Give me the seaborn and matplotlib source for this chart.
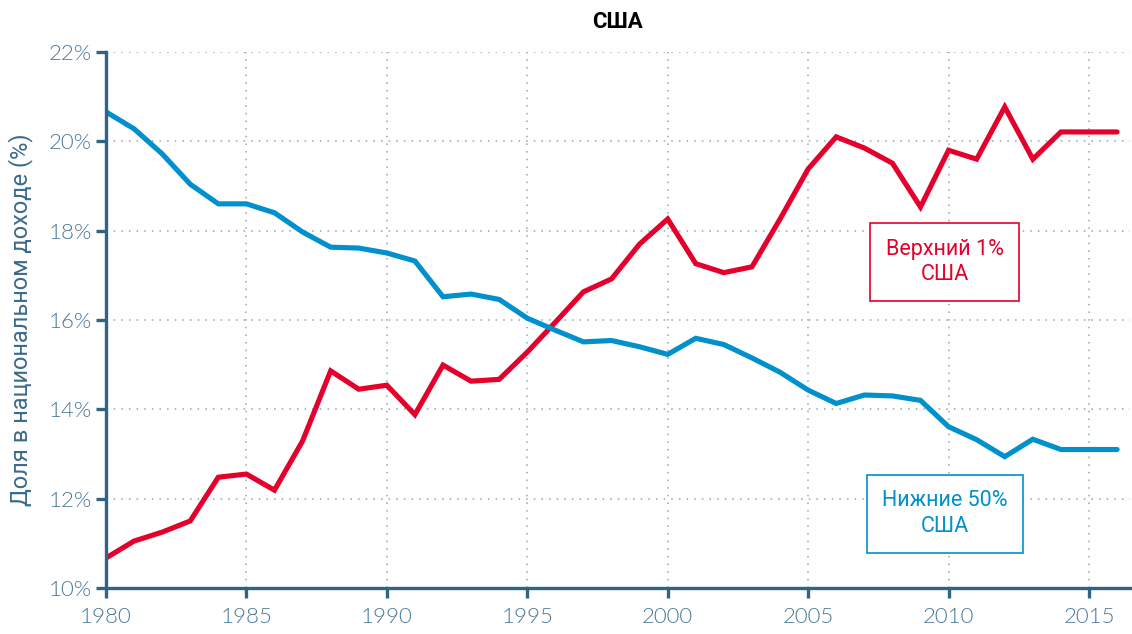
import matplotlib
matplotlib.use("Agg")
import matplotlib.pyplot as plt
import matplotlib.ticker as mticker
import pandas as pd
import seaborn as sns

years = list(range(1980, 2017))
top1 = [10.67, 11.05, 11.25, 11.50, 12.48, 12.55, 12.19, 13.29, 14.86, 14.45,
        14.54, 13.88, 14.99, 14.63, 14.67, 15.28, 15.95, 16.63, 16.92, 17.70,
        18.26, 17.26, 17.06, 17.19, 18.26, 19.38, 20.10, 19.85, 19.51, 18.53,
        19.80, 19.60, 20.77, 19.60, 20.21, 20.21, 20.21]
bottom50 = [20.66, 20.28, 19.72, 19.04, 18.60, 18.60, 18.40, 17.97, 17.63, 17.61,
            17.50, 17.32, 16.52, 16.58, 16.46, 16.04, 15.77, 15.51, 15.54, 15.40,
            15.23, 15.59, 15.45, 15.15, 14.83, 14.43, 14.13, 14.32, 14.30, 14.20,
            13.61, 13.32, 12.94, 13.33, 13.10, 13.10, 13.10]
series_names = ["Верхний 1%\nСША", "Нижние 50%\nСША"]
colors = ["#e4002b", "#0090cc"]

df = pd.concat([
    pd.DataFrame({"year": years, "share": top1, "group": series_names[0]}),
    pd.DataFrame({"year": years, "share": bottom50, "group": series_names[1]}),
])

sns.set_style("white")
plt.rcParams["font.family"] = ["Roboto", "DejaVu Sans"]

axis_col = "#2f6485"
tick_col = "#4a7898"

fig = plt.figure(figsize=(11.32, 6.34), dpi=100)
ax = fig.add_axes([0.0936, 0.0726, 0.9044, 0.8454])

sns.lineplot(data=df, x="year", y="share", hue="group", palette=colors,
             linewidth=3.7, legend=False, ax=ax)
for line in ax.lines:
    line.set_solid_capstyle("round")
    line.set_solid_joinstyle("miter")

ax.set_xlim(1980, 2016.45)
ax.set_ylim(10, 22)
ax.set_xticks(range(1980, 2016, 5))
ax.set_yticks(range(10, 23, 2))
ax.yaxis.set_major_formatter(mticker.FuncFormatter(lambda v, p: f"{v:.0f}%"))

ax.grid(True, linestyle=(0, (1, 4)), color="#8fa6b8", linewidth=1.1)
for s in ["top", "right"]:
    ax.spines[s].set_visible(False)
for s in ["left", "bottom"]:
    ax.spines[s].set_color(axis_col)
    ax.spines[s].set_linewidth(2.4)

ax.tick_params(axis="both", colors=axis_col, width=2.4, length=7, direction="out",
               labelcolor=tick_col, labelsize=16, bottom=True, left=True)
for lab in ax.get_xticklabels() + ax.get_yticklabels():
    lab.set_family(["Lato", "DejaVu Sans"])
    lab.set_fontweight(300)
ax.tick_params(axis="x", pad=7)
ax.tick_params(axis="y", pad=3)

ax.set_xlabel("")
ax.set_ylabel("Доля в национальном доходе (%)", color="#3b6b8c", fontsize=17, labelpad=11)
ax.set_title("США", fontsize=16, fontweight="bold", color="black", pad=17)

label_pos = [(2009.87, 17.3), (2009.87, 11.66)]
for name, col, (x, y) in zip(series_names, colors, label_pos):
    ax.text(x, y, name, color=col, fontsize=15.5, ha="center", va="center",
            linespacing=1.3,
            bbox=dict(boxstyle="square,pad=0.72", facecolor="white", edgecolor=col, linewidth=1.2))

fig.savefig("out.png", dpi=100)
